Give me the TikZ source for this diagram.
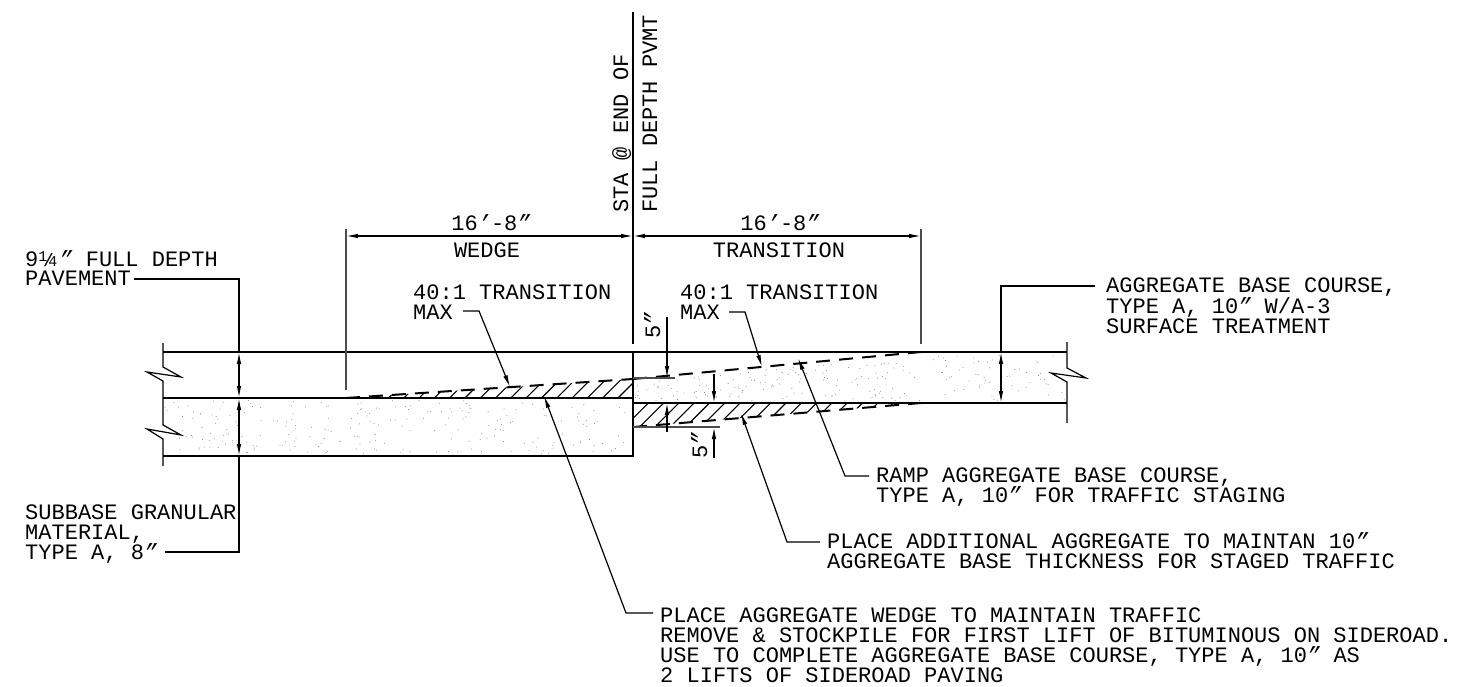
\documentclass[tikz,border=0pt]{standalone}
\usepackage{fontspec}
\setmainfont{Liberation Mono}
\usetikzlibrary{arrows.meta}
\newcommand{\inmark}{{\itshape"}}
\newcommand{\ftmark}{{\itshape'}}
\newcommand{\fracquarter}{\makebox[21pt][l]{\fontsize{15}{15}\selectfont\raisebox{4.5pt}{1}\kern-1pt\raisebox{-0.5pt}{\kern2pt 4}\makebox[0pt][r]{\fontsize{18}{18}\selectfont/\kern3.5pt}}}
\begin{document}
\begin{tikzpicture}[x=1pt,y=-1pt,>={Latex[length=12pt,width=4.5pt]}]
        \tikzstyle{label} = [inner sep=0pt, anchor=base west, align=left, font=\fontsize{22}{20}\selectfont]
        \tikzstyle{labelc} = [inner sep=0pt, anchor=base, font=\fontsize{22}{20}\selectfont]
        \tikzstyle{labelr} = [inner sep=0pt, anchor=base west, rotate=90, font=\fontsize{22}{20}\selectfont]
        \tikzstyle{heavy} = [line width=2.2pt]
        \tikzstyle{thin line} = [line width=1.2pt]
        \tikzstyle{ramp} = [line width=2pt, dash pattern=on 14pt off 9pt]
        \tikzstyle{hatch} = [line width=1.1pt]
        \tikzstyle{leader} = [->, line width=1.2pt]
        \tikzstyle{dim} = [<->, line width=1.2pt]
        \tikzstyle{ext} = [line width=1.3pt, black!70]
        \tikzstyle{stipple} = [black!50]

        \useasboundingbox (0,0) rectangle (1469,687);
        \fill[white] (0,0) rectangle (1469,687);

        % Stipple
        \pgfmathsetseed{7}
        \foreach \i in {1,...,230} {
            \pgfmathsetmacro{\dotx}{165+rnd*466}
            \pgfmathsetmacro{\doty}{400+rnd*54}
            \fill[stipple] (\dotx,\doty) circle (0.5);
        }
        \foreach \i in {1,...,200} {
            \pgfmathsetmacro{\dotx}{635+rnd*430}
            \pgfmathsetmacro{\dotop}{\dotx<921 ? 379-27*(\dotx-633)/288 : 352}
            \pgfmathsetmacro{\doty}{\dotop+3+rnd*(401-\dotop-3)}
            \fill[stipple] (\dotx,\doty) circle (0.5);
        }

        % Hatching
        \begin{scope}
            \clip (346,398) -- (633,379) -- (633,398) -- cycle;
            \foreach \k in {-1,...,18}
                \draw[hatch] (618-15.3*\k,398) -- ++(30,-30);
        \end{scope}
        \begin{scope}
            \clip (633,403) -- (921,403) -- (633,427) -- cycle;
            \foreach \k in {-1,...,18}
                \draw[hatch] (648.3+15.3*\k,403) -- ++(-30,30);
        \end{scope}

        % Pavement lines
        \draw[thin line] (163,352) -- (633,352);
        \draw[heavy] (163,398) -- (633,398);
        \draw[heavy] (163,456) -- (633,456);
        \draw[heavy] (633,352) -- (1067,352);
        \draw[heavy] (633,403) -- (1067,403);
        \draw[line width=2.6pt] (633,351) -- (633,457);
        \draw[ramp] (346,398) -- (633,379);
        \draw[ramp] (633,379) -- (921,352);
        \draw[ramp] (633,427) -- (921,403);
        \draw[ext] (633,378) -- (675,378);
        \draw[ext] (633,427) -- (720,427);

        % Break lines
        \draw[thin line] (163,343) -- (163,367) -- (181,377) -- (147,372) -- (163,381) -- (163,425) -- (181,435) -- (147,429) -- (163,439) -- (163,466);
        \draw[thin line] (1067,342) -- (1067,368) -- (1086,378) -- (1051,373) -- (1067,382) -- (1067,423);

        % Station line and extension lines
        \draw[thin line] (633,12) -- (633,344);
        \draw[ext] (346,229) -- (346,390);
        \draw[ext] (921,229) -- (921,344);
        \node[labelr] (sta) at (628,213) {STA @ END OF};
        \node[labelr] (fulldepth) at (657,213) {FULL DEPTH PVMT};

        % Top dimensions
        \coordinate (dimleft) at (346,236);
        \coordinate (dimmid) at (633,236);
        \coordinate (dimright) at (921,236);
        \draw[dim] (dimleft) -- (dimmid);
        \draw[dim] (dimmid) -- (dimright);
        \node[labelc] (lenwedge) at (491,230) {16\ftmark-8\inmark};
        \node[labelc] (wedge) at (487,257) {WEDGE};
        \node[labelc] (lentrans) at (780,230) {16\ftmark-8\inmark};
        \node[labelc] (transition) at (779,257) {TRANSITION};

        % Depth dimensions
        \coordinate (pavetop) at (239,352);
        \coordinate (pavemid) at (239,398);
        \coordinate (pavebot) at (239,456);
        \draw[dim] (pavetop) -- (pavemid);
        \draw[dim] (pavemid) -- (pavebot);
        \coordinate (rampdimtop) at (1001,352);
        \coordinate (rampdimbot) at (1001,403);
        \draw[dim] (rampdimtop) -- (rampdimbot);

        % Five inch dimensions
        \draw[leader] (667,317) -- (667,378);
        \draw[leader] (667,432) -- (667,403);
        \draw[leader] (714,374) -- (714,403);
        \draw[leader] (714,458) -- (714,427);
        \node[labelr] (fivetop) at (660,339) {5\inmark};
        \node[labelr] (fivebot) at (707,459) {5\inmark};

        % Notes
        \node[label] (fulldepthnote) at (25,266) {9\fracquarter\inmark{} FULL DEPTH};
        \node[label] (pavement) at (25,285) {PAVEMENT};
        \node[label] (subbase) at (25,519) {SUBBASE GRANULAR};
        \node[label] (material) at (25,539) {MATERIAL,};
        \node[label] (typea) at (25,559) {TYPE A, 8\inmark};
        \node[label] (lefttrans) at (413,299) {40:1 TRANSITION};
        \node[label] (leftmax) at (413,319) {MAX};
        \node[label] (righttrans) at (680,299) {40:1 TRANSITION};
        \node[label] (rightmax) at (680,319) {MAX};
        \node[label] (basea) at (1106,292) {AGGREGATE BASE COURSE,};
        \node[label] (baseb) at (1106,313) {TYPE A, 10\inmark{} W/A-3};
        \node[label] (basec) at (1106,333) {SURFACE TREATMENT};
        \node[label] (rampa) at (876,482) {RAMP AGGREGATE BASE COURSE,};
        \node[label] (rampb) at (876,502) {TYPE A, 10\inmark{} FOR TRAFFIC STAGING};
        \node[label] (adda) at (827,548) {PLACE ADDITIONAL AGGREGATE TO MAINTAN 10\inmark};
        \node[label] (addb) at (827,568) {AGGREGATE BASE THICKNESS FOR STAGED TRAFFIC};
        \node[label] (wedgea) at (660,622) {PLACE AGGREGATE WEDGE TO MAINTAIN TRAFFIC};
        \node[label] (wedgeb) at (660,642) {REMOVE \& STOCKPILE FOR FIRST LIFT OF BITUMINOUS ON SIDEROAD.};
        \node[label] (wedgec) at (660,662) {USE TO COMPLETE AGGREGATE BASE COURSE, TYPE A, 10\inmark{} AS};
        \node[label] (wedged) at (660,682) {2 LIFTS OF SIDEROAD PAVING};

        % Leaders
        \draw[thin line] (pavement.base east) ++(3,-6) -- (239,279) -- (pavetop);
        \draw[thin line] (typea.base east) ++(8,-7) -- (239,552) -- (pavebot);
        \draw[leader] (leftmax.base east) ++(10,-8) -- ++(16,0) -- (510,387);
        \draw[leader] (rightmax.base east) ++(9,-7) -- ++(16,0) -- (762,367);
        \draw[thin line] (basea.base west) ++(-11,-6) -- (1001,286) -- (rampdimtop);
        \draw[leader] (rampa.base west) ++(-7,-6) -- (845,476) -- (798,358);
        \draw[leader] (adda.base west) ++(-7,-6) -- (787,542) -- (741,413);
        \draw[leader] (wedgea.base west) ++(-7,-9) -- (626,613) -- (544,396);
\end{tikzpicture}
\end{document}
